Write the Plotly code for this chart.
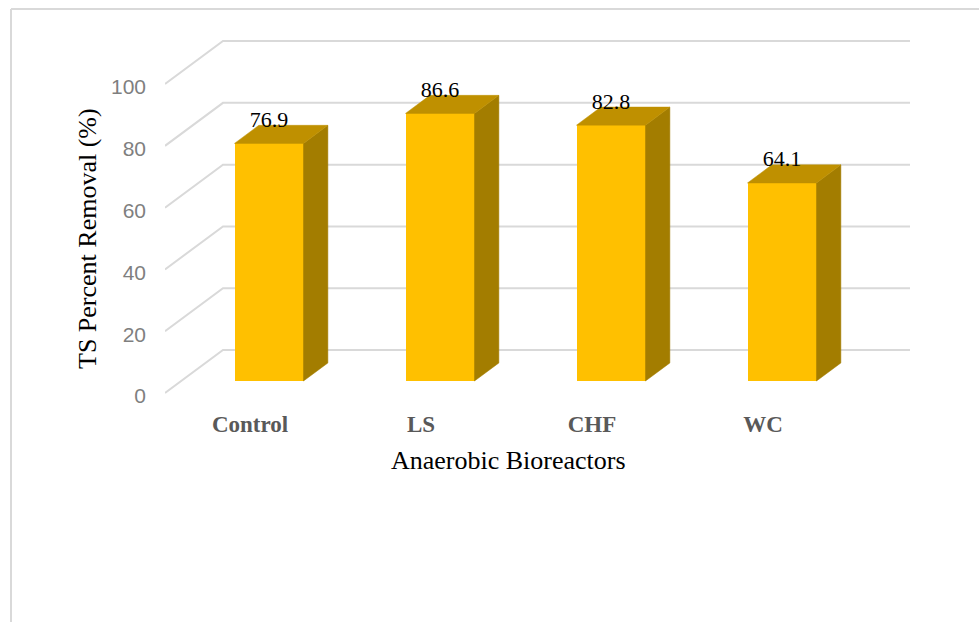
import plotly.graph_objects as go

# ---- data ----
CATEGORIES = ["Control", "LS", "CHF", "WC"]
TS_REMOVAL = [76.9, 86.6, 82.8, 64.1]
Y_TICKS = [0, 20, 40, 60, 80, 100]

# ---- page / plot geometry (pixels) ----
W, H = 979, 622
M_L, M_R, M_T, M_B = 165, 49, 30, 222
PLOT_W = W - M_L - M_R
PLOT_H = H - M_T - M_B
CAT_STEP_PX = 171          # distance between neighbouring bars
VAL_PX = 3.09              # pixels per percent
FIRST_CAT_PX = 269         # screen x of the first bar's front centre
BASE_PX = 381              # screen y of the bars' front base
BAR_W_PX = 69

# oblique depth: t=0 front edge of the floor, t=1 back wall
WALL_DX_PX, WALL_DY_PX = 58, 43
BAR_T0, BAR_T1 = 0.28, 0.70
LEFT_EDGE_PX, RIGHT_WALL_PX = 165, 910
CAT_LABEL_SHIFT_PX = 19
VALUE_LABEL_LIFT_PX = 22
TICK_LABEL_DROP_PX = 3

X_RANGE = [(M_L - FIRST_CAT_PX) / CAT_STEP_PX, (W - M_R - FIRST_CAT_PX) / CAT_STEP_PX]
Y_RANGE = [(BASE_PX - (M_T + PLOT_H)) / VAL_PX, (BASE_PX - M_T) / VAL_PX]


def depth_shift(t):
    """Screen offset (axis units) of depth t relative to the bars' front plane."""
    return (WALL_DX_PX * (t - BAR_T0) / CAT_STEP_PX, WALL_DY_PX * (t - BAR_T0) / VAL_PX)


def project(x3, v, t):
    dx, dy = depth_shift(t)
    return x3 + dx, v + dy


GRID = "#D9D9D9"
FRONT = "#FFC000"
TOP = "#BF9000"
SIDE = "#A37D00"
SERIF = "Liberation Serif, Times New Roman, serif"
SANS = "Liberation Sans, Arial, sans-serif"

fig = go.Figure()

# back-wall gridlines with their receding segment on the left wall (bottom layer)
left3 = (LEFT_EDGE_PX - FIRST_CAT_PX) / CAT_STEP_PX - depth_shift(0)[0]
right3 = (RIGHT_WALL_PX - FIRST_CAT_PX) / CAT_STEP_PX - depth_shift(1)[0]
for v in Y_TICKS:
    pts = [project(left3, v, 0), project(left3, v, 1), project(right3, v, 1)]
    fig.add_trace(go.Scatter(
        x=[p[0] for p in pts], y=[p[1] for p in pts], mode="lines",
        line=dict(color=GRID, width=2), hoverinfo="skip", showlegend=False,
        xaxis="x", yaxis="y"))

# front faces (overlay subplot, drawn above the gridlines)
fig.add_trace(go.Bar(
    x=list(range(len(TS_REMOVAL))), y=TS_REMOVAL, width=BAR_W_PX / CAT_STEP_PX,
    marker=dict(color=FRONT, line=dict(width=0)), hoverinfo="skip", showlegend=False,
    xaxis="x2", yaxis="y2"))

# side and top faces of each bar
hw = BAR_W_PX / 2 / CAT_STEP_PX
for i, v in enumerate(TS_REMOVAL):
    side = [project(i + hw, 0, BAR_T0), project(i + hw, v, BAR_T0),
            project(i + hw, v, BAR_T1), project(i + hw, 0, BAR_T1)]
    top = [project(i - hw, v, BAR_T0), project(i + hw, v, BAR_T0),
           project(i + hw, v, BAR_T1), project(i - hw, v, BAR_T1)]
    for poly, col in ((side, SIDE), (top, TOP)):
        fig.add_trace(go.Scatter(
            x=[p[0] for p in poly] + [poly[0][0]], y=[p[1] for p in poly] + [poly[0][1]],
            mode="lines", fill="toself", fillcolor=col, line=dict(color=col, width=0.5),
            hoverinfo="skip", showlegend=False, xaxis="x2", yaxis="y2"))

# value labels
fig.add_trace(go.Scatter(
    x=list(range(len(TS_REMOVAL))),
    y=[v + VALUE_LABEL_LIFT_PX / VAL_PX for v in TS_REMOVAL],
    mode="text", text=[f"{v:.1f}" for v in TS_REMOVAL], textposition="middle center",
    textfont=dict(family=SERIF, size=22, color="#000000"),
    hoverinfo="skip", showlegend=False, cliponaxis=False, xaxis="x2", yaxis="y2"))

# tick labels sit on the front edge of the floor
tick_shift = depth_shift(0)[1] - TICK_LABEL_DROP_PX / VAL_PX
cat_shift = CAT_LABEL_SHIFT_PX / CAT_STEP_PX

fig.update_layout(
    width=W, height=H,
    margin=dict(l=M_L, r=M_R, t=M_T, b=M_B),
    paper_bgcolor="white", plot_bgcolor="white",
    xaxis=dict(range=X_RANGE, fixedrange=True,
               tickmode="array", tickvals=[i - cat_shift for i in range(len(CATEGORIES))],
               ticktext=CATEGORIES,
               showgrid=False, zeroline=False, showline=False, ticks="",
               tickfont=dict(family=SERIF, size=23, color="#595959", weight="bold"),
               ticklabelstandoff=8),
    yaxis=dict(range=Y_RANGE, fixedrange=True,
               tickmode="array", tickvals=[v + tick_shift for v in Y_TICKS],
               ticktext=[str(v) for v in Y_TICKS],
               showgrid=False, zeroline=False, showline=False, ticks="",
               tickfont=dict(family=SANS, size=21, color="#7F7F7F"),
               ticklabelstandoff=18),
    xaxis2=dict(range=X_RANGE, overlaying="x", anchor="y2", visible=False, fixedrange=True),
    yaxis2=dict(range=Y_RANGE, overlaying="y", anchor="x2", visible=False, fixedrange=True),
    bargap=0,
)


def px_to_paper(px, py):
    return (px - M_L) / PLOT_W, (M_T + PLOT_H - py) / PLOT_H


# axis titles
tx, ty = px_to_paper(508, 460)
fig.add_annotation(x=tx, y=ty, xref="paper", yref="paper", text="Anaerobic Bioreactors",
                   showarrow=False, xanchor="center", yanchor="middle",
                   font=dict(family=SERIF, size=26, color="#000000"))
tx, ty = px_to_paper(87, 239)
fig.add_annotation(x=tx, y=ty, xref="paper", yref="paper", text="TS Percent Removal (%)",
                   showarrow=False, xanchor="center", yanchor="middle", textangle=-90,
                   font=dict(family=SERIF, size=26, color="#000000"))

# chart-area border (top and left edges)
x0, y0 = px_to_paper(11, 9)
x1, _ = px_to_paper(W + 5, 9)
_, y1 = px_to_paper(11, H + 5)
fig.add_shape(type="line", xref="paper", yref="paper", x0=x0, y0=y0, x1=x1, y1=y0,
              line=dict(color=GRID, width=2))
fig.add_shape(type="line", xref="paper", yref="paper", x0=x0, y0=y0, x1=x0, y1=y1,
              line=dict(color=GRID, width=2))

fig.write_html("out.html")
